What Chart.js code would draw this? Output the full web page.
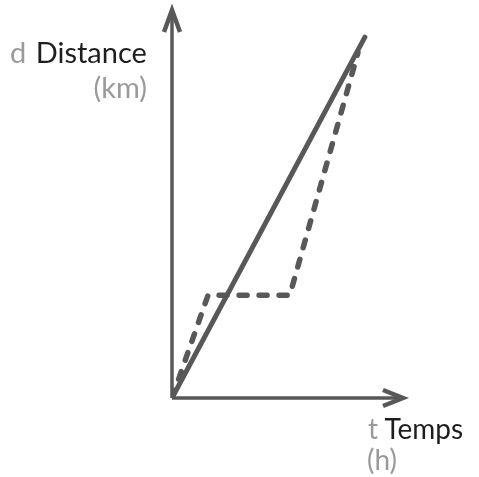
<!DOCTYPE html>
<html>
<head>
<meta charset="utf-8">
<title>Distance / Temps</title>
<script src="https://cdn.jsdelivr.net/npm/chart.js@4/dist/chart.umd.min.js"></script>
<style>
  html, body { margin: 0; padding: 0; background: #fff; }
  #wrap { position: relative; width: 479px; height: 477px; }
  #chart { position: absolute; left: 0; top: 0; }
  .lbl { position: absolute; font-family: Lato, 'Open Sans', sans-serif; font-size: 29px; line-height: 1; white-space: nowrap; }
  .dim { color: #9a9a9a; }
  .dark { color: #1e1e1e; }
</style>
</head>
<body>
<div id="wrap">
  <canvas id="chart" width="479" height="477"></canvas>
  <div class="lbl" style="left:10px; top:37px;"><span class="dim">d</span> <span class="dark" style="margin-left:2px;">Distance</span></div>
  <div class="lbl dim" style="right:332px; top:72px;">(km)</div>
  <div class="lbl" style="left:368px; top:414px; font-size:28px;"><span class="dim">t</span> <span class="dark">Temps</span></div>
  <div class="lbl dim" style="left:367px; top:445px; font-size:28px;">(h)</div>
</div>
<script>
(function(Chart) {
  'use strict';

  // hours on x, km on y (arbitrary units, axis max = arrow tip)
  var axisMax = { x: 10, y: 10 };

  var directTrip = [
    { x: 0, y: 0 },
    { x: 8.35, y: 9.3 }
  ];

  var stopTrip = [
    { x: 0, y: 0 },
    { x: 1.56, y: 2.65 },
    { x: 5.1, y: 2.65 },
    { x: 8.05, y: 8.9 }
  ];

  var ink = '#585858';

  // draws the two axes with arrow heads from the scales
  var arrowAxes = {
    id: 'arrowAxes',
    beforeDatasetsDraw: function(chart) {
      var ctx = chart.ctx;
      var xs = chart.scales.x;
      var ys = chart.scales.y;
      var ox = xs.getPixelForValue(0);
      var oy = ys.getPixelForValue(0);
      var tipX = xs.getPixelForValue(axisMax.x);
      var tipY = ys.getPixelForValue(axisMax.y);

      ctx.save();
      ctx.strokeStyle = ink;
      ctx.lineWidth = 3.5;
      ctx.lineCap = 'butt';

      ctx.beginPath();
      ctx.moveTo(ox, oy);
      ctx.lineTo(tipX - 4, oy);
      ctx.moveTo(ox, oy);
      ctx.lineTo(ox, tipY + 4);
      ctx.stroke();

      ctx.lineWidth = 4.5;
      ctx.lineJoin = 'miter';
      ctx.beginPath();
      ctx.moveTo(tipX - 20, oy - 8);
      ctx.lineTo(tipX, oy);
      ctx.lineTo(tipX - 20, oy + 8);
      ctx.moveTo(ox - 8, tipY + 22);
      ctx.lineTo(ox, tipY);
      ctx.lineTo(ox + 8, tipY + 22);
      ctx.stroke();
      ctx.restore();
    }
  };

  new Chart(document.getElementById('chart'), {
    type: 'line',
    data: {
      datasets: [
        {
          label: 'direct',
          data: directTrip,
          borderColor: ink,
          borderWidth: 5,
          borderCapStyle: 'round',
          pointRadius: 0,
          tension: 0
        },
        {
          label: 'pause',
          data: stopTrip,
          borderColor: ink,
          borderWidth: 5.5,
          borderDash: [8, 12],
          borderCapStyle: 'round',
          borderJoinStyle: 'round',
          pointRadius: 0,
          tension: 0
        }
      ]
    },
    options: {
      responsive: false,
      animation: false,
      layout: { padding: { left: 172, right: 76, top: 10, bottom: 79 } },
      plugins: { legend: { display: false }, tooltip: { enabled: false } },
      scales: {
        x: { type: 'linear', min: 0, max: axisMax.x, display: false },
        y: { type: 'linear', min: 0, max: axisMax.y, display: false }
      }
    },
    plugins: [arrowAxes]
  });

}(Chart));
</script>
</body>
</html>
